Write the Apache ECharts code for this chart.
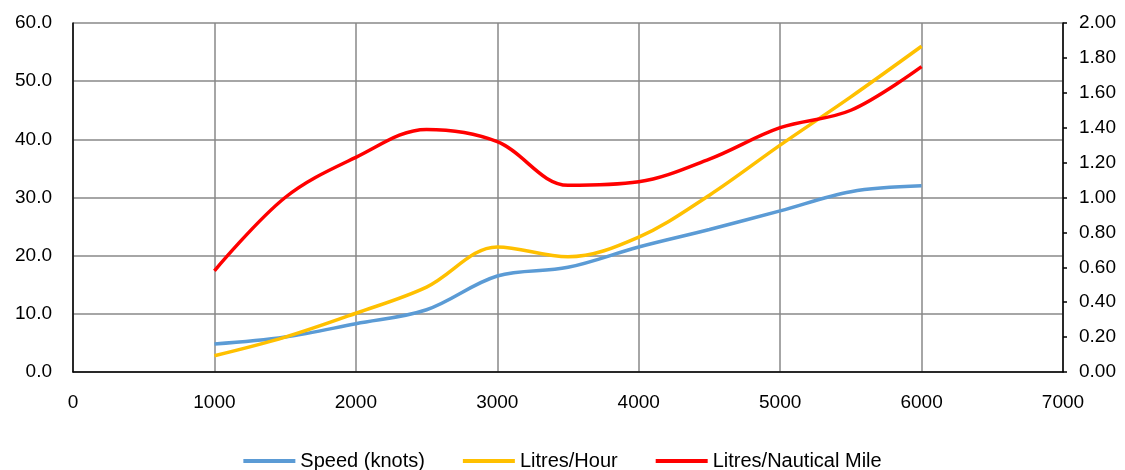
<!DOCTYPE html>
<html><head><meta charset="utf-8">
<script src="https://cdn.jsdelivr.net/npm/echarts@6/dist/echarts.min.js"></script>
<style>html,body{margin:0;padding:0;background:#fff}#c{width:1125px;height:470px}</style>
</head><body><div id="c"></div>
<script>
var rpm = [1000,1500,2000,2500,3000,3500,4000,4500,5000,5500,6000];
var speedKnots = [4.8,6.0,8.3,10.7,16.5,18.0,21.5,24.5,27.7,31.0,32.0];
var litresHour = [2.8,6.0,10.1,14.6,21.5,19.8,23.2,30.4,39.0,47.3,56.0];
var litresNm = [0.58,1.00,1.23,1.39,1.32,1.07,1.09,1.22,1.40,1.50,1.75];
var seriesNames = ['Speed (knots)','Litres/Hour','Litres/Nautical Mile'];

function pairs(xs, ys){ return xs.map(function(x,i){return [x, ys[i]];}); }
var font = 'Liberation Sans, sans-serif';
var chart = echarts.init(document.getElementById('c'));
chart.setOption({
  animation:false,
  textStyle:{fontFamily:font},
  grid:{left:73,right:62,top:23,bottom:98},
  legend:{top:446,itemWidth:52,itemHeight:4,itemGap:38,icon:'rect',
    textStyle:{fontSize:20,color:'#000',fontFamily:font},
    data:seriesNames},
  xAxis:{type:'value',min:0,max:7000,interval:1000,
    axisLine:{lineStyle:{color:'#000',width:1.5}},axisTick:{show:false},
    axisLabel:{fontSize:19,color:'#000',margin:21,fontFamily:font,formatter:function(v){return String(v);}},
    splitLine:{show:true,lineStyle:{color:'#888888',width:1.5}}},
  yAxis:[
    {type:'value',min:0,max:60,interval:10,
     axisLine:{show:true,lineStyle:{color:'#000',width:1.5}},axisTick:{show:false},
     axisLabel:{fontSize:19,color:'#000',margin:21,fontFamily:font,formatter:function(v){return v.toFixed(1);}},
     splitLine:{show:true,lineStyle:{color:'#888888',width:1.5}}},
    {type:'value',min:0,max:2,interval:0.2,
     axisLine:{show:true,lineStyle:{color:'#000',width:1.5}},axisTick:{show:true,length:4,lineStyle:{color:'#000',width:1.5}},
     axisLabel:{fontSize:19,color:'#000',margin:16,fontFamily:font,formatter:function(v){return v.toFixed(2);}},
     splitLine:{show:false}}
  ],
  series:[
    {name:seriesNames[0],type:'line',smooth:0.35,showSymbol:false,yAxisIndex:0,
     lineStyle:{width:3.5,color:'#5B9BD5'},itemStyle:{color:'#5B9BD5'},data:pairs(rpm,speedKnots)},
    {name:seriesNames[1],type:'line',smooth:0.35,showSymbol:false,yAxisIndex:0,
     lineStyle:{width:3.5,color:'#FFC000'},itemStyle:{color:'#FFC000'},data:pairs(rpm,litresHour)},
    {name:seriesNames[2],type:'line',smooth:0.35,showSymbol:false,yAxisIndex:1,
     lineStyle:{width:3.5,color:'#FF0000'},itemStyle:{color:'#FF0000'},data:pairs(rpm,litresNm)}
  ]
});
</script></body></html>
